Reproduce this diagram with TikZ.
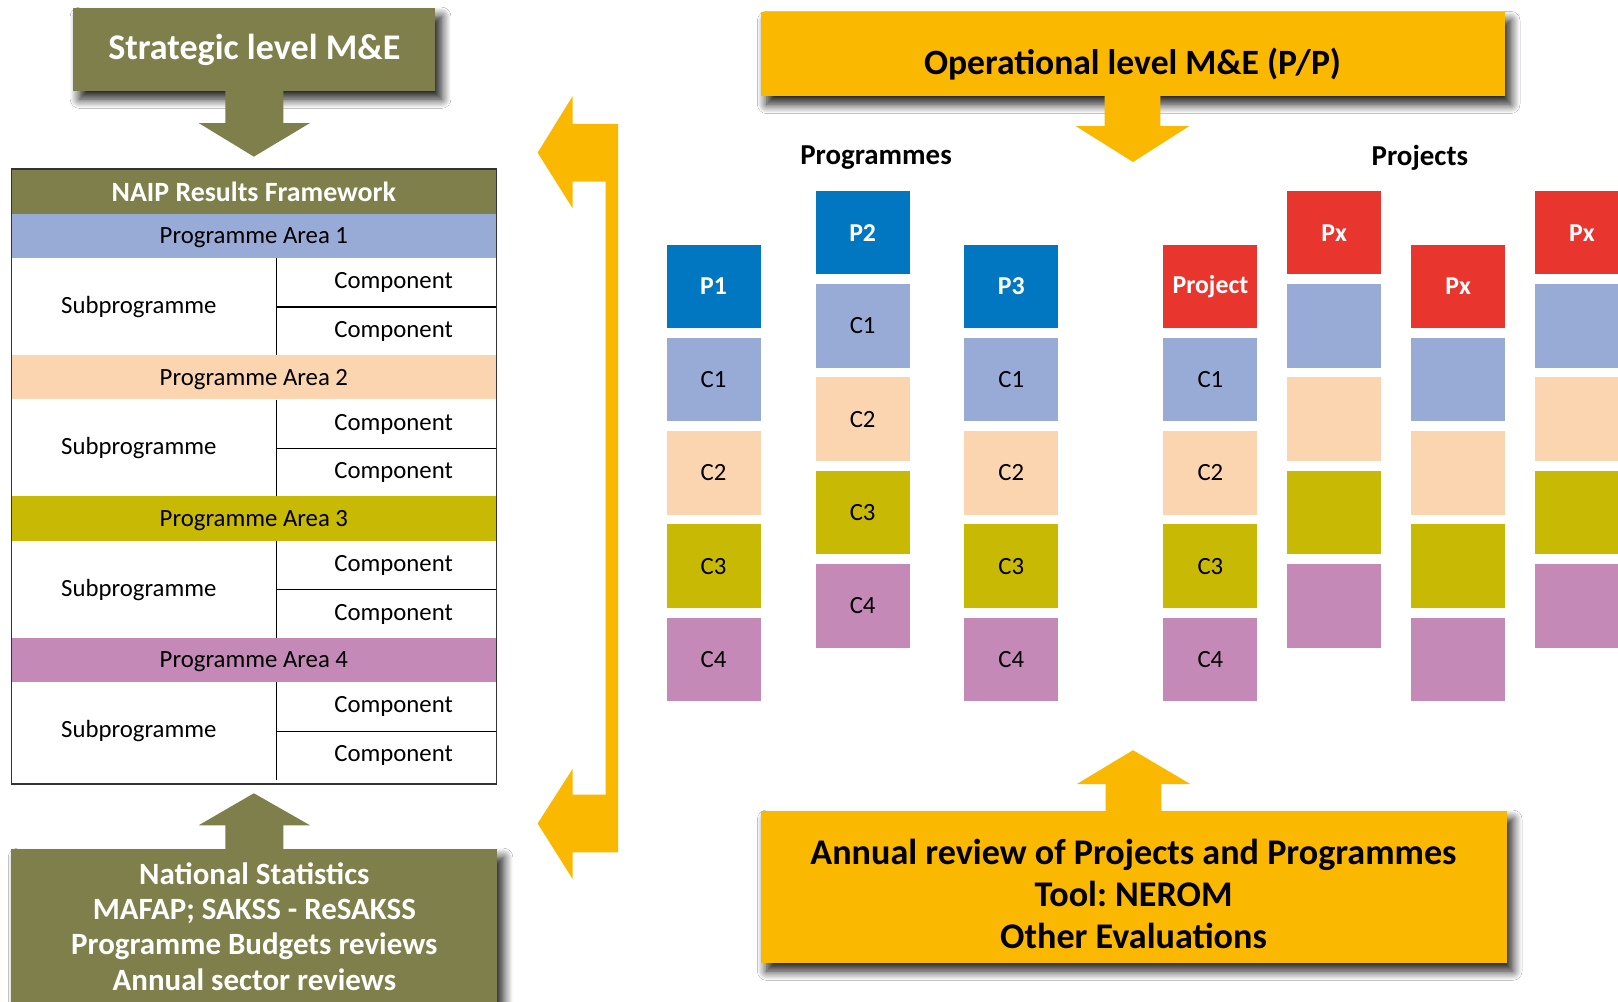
\documentclass[tikz,border=0pt]{standalone}
\usepackage{fontspec}
\setmainfont{Carlito}
\usetikzlibrary{positioning,calc,shadows.blur}
\definecolor{olivebox}{RGB}{127,127,76}
\definecolor{amber}{RGB}{250,185,0}
\definecolor{pablue}{RGB}{152,170,214}
\definecolor{papeach}{RGB}{251,213,176}
\definecolor{paolive}{RGB}{200,185,4}
\definecolor{pamauve}{RGB}{197,137,184}
\definecolor{progblue}{RGB}{0,119,192}
\definecolor{projred}{RGB}{232,53,46}
\frenchspacing
\tikzset{
  mebox/.style={rectangle, inner sep=0pt, text centered,
    blur shadow={shadow xshift=6pt, shadow yshift=-8pt, shadow blur radius=9pt,
      shadow opacity=90, shadow blur steps=12}},
  strategic/.style={mebox, fill=olivebox, text=white},
  operational/.style={mebox, fill=amber, text=black},
  band/.style={rectangle, minimum width=470pt, minimum height=43pt, inner sep=0pt,
    text depth=0pt, font=\fontsize{24}{27}\selectfont},
  cell/.style={rectangle, inner sep=0pt, font=\fontsize{24}{27}\selectfont},
  divider/.style={draw=black, line width=1.2pt},
  cbox/.style={rectangle, minimum width=91pt, minimum height=81pt, inner sep=0pt,
    font=\fontsize{24}{27}\selectfont},
  headbox/.style={cbox, text=white, font=\fontsize{25}{28}\selectfont\bfseries},
  grouplabel/.style={font=\fontsize{28}{32}\selectfont\bfseries}
}
\begin{document}
\begin{tikzpicture}[x=1pt, y=-1pt]
\useasboundingbox (0,0) rectangle (1568,971);
\fill[white] (0,0) rectangle (1568,971);

% strategic side
\node (strat)[strategic, minimum width=351pt, minimum height=80pt,
  font=\fontsize{35}{40}\selectfont\bfseries] at (246.5,48) {Strategic level M\&E};
\node (natstat)[strategic, minimum width=471pt, minimum height=150pt, align=center,
  font=\fontsize{30}{34}\selectfont\bfseries] at (246.5,898)
  {National Statistics\\MAFAP; SAKSS - ReSAKSS\\Programme Budgets reviews\\Annual sector reviews};

% results framework table
\node (naip)[band, fill=olivebox, text=white, font=\fontsize{27}{30}\selectfont\bfseries]
  at (246,185.5) {NAIP Results Framework};
\foreach \i/\col/\top in {1/pablue/207, 2/papeach/344, 3/paolive/481, 4/pamauve/618}{
  \node (pa\i)[band, fill=\col] at (246,\top+21.5) {Programme Area \i};
  \node (sub\i)[cell, minimum width=257pt, minimum height=94pt, anchor=north west]
    at (pa\i.south west) {Subprogramme\hspace*{10pt}};
  \node (cmp\i-a)[cell, minimum width=213pt, minimum height=47pt, anchor=north east]
    at (pa\i.south east) {\hspace*{14pt}Component};
  \node (cmp\i-b)[cell, minimum width=213pt, minimum height=47pt, below=0pt of cmp\i-a]
    {\hspace*{14pt}Component};
  \draw[divider] (cmp\i-a.south west) -- (cmp\i-a.south east);
  \draw[divider] (sub\i.north east) -- (sub\i.south east);
}
\node (rf)[draw=black!80, line width=1.5pt, minimum width=470pt, minimum height=596pt,
  inner sep=0pt] at (246,462) {};

\fill[olivebox] ($(strat.south)+(-28,0)$) -- ($(strat.south)+(-28,31)$)
  -- ($(strat.south)+(-54,31)$) -- ($(naip.north)+(0,-12)$)
  -- ($(strat.south)+(54,31)$) -- ($(strat.south)+(28,31)$)
  -- ($(strat.south)+(28,0)$) -- cycle;
\fill[olivebox] ($(natstat.north)+(-28,0)$) -- ($(natstat.north)+(-28,-23)$)
  -- ($(natstat.north)+(-54,-23)$) -- ($(rf.south)+(0,8)$)
  -- ($(natstat.north)+(54,-23)$) -- ($(natstat.north)+(28,-23)$)
  -- ($(natstat.north)+(28,0)$) -- cycle;

% feedback bracket
\fill[amber] (521,148) -- (555,93) -- (555,120) -- (599,120) -- (599,826)
  -- (555,826) -- (555,852) -- (521,798) -- (555,745) -- (555,770)
  -- (587,770) -- (587,176) -- (555,176) -- (555,202) -- cycle;

% operational side
\node (oper)[operational, minimum width=721pt, minimum height=81pt,
  text height=40pt, text depth=0pt,
  font=\fontsize{34.5}{40}\selectfont\bfseries] at (1097.5,52.5)
  {Operational level M\&E (P/P)};
\node (annual)[operational, minimum width=723pt, minimum height=147pt, align=center,
  font=\fontsize{35}{41}\selectfont\bfseries] at (1098.5,859.5)
  {\rule{0pt}{38pt}Annual review of Projects and Programmes\\Tool: NEROM\\Other Evaluations};
\coordinate (optip) at (1098,157);
\coordinate (antip) at (1098,727);
\fill[amber] ($(oper.south)+(-27,0)$) -- ($(oper.south)+(-27,29)$)
  -- ($(oper.south)+(-55,29)$) -- (optip)
  -- ($(oper.south)+(55,29)$) -- ($(oper.south)+(27,29)$)
  -- ($(oper.south)+(27,0)$) -- cycle;
\fill[amber] ($(annual.north)+(-27,0)$) -- ($(annual.north)+(-27,-26)$)
  -- ($(annual.north)+(-55,-26)$) -- (antip)
  -- ($(annual.north)+(55,-26)$) -- ($(annual.north)+(27,-26)$)
  -- ($(annual.north)+(27,0)$) -- cycle;

\node (progs)[grouplabel] at (849,153) {Programmes};
\node (projs)[grouplabel] at (1376,153) {Projects};

% programme stacks
\foreach \nm/\x/\y/\lab in {p1/691.5/277.5/P1, p2/836/225.5/P2, p3/980/277.5/P3}{
  \node (\nm)[headbox, fill=progblue] at (\x,\y) {\lab};
  \node (\nm c1)[cbox, fill=pablue, below=9pt of \nm] {C1};
  \node (\nm c2)[cbox, fill=papeach, below=9pt of \nm c1] {C2};
  \node (\nm c3)[cbox, fill=paolive, below=9pt of \nm c2] {C3};
  \node (\nm c4)[cbox, fill=pamauve, below=9pt of \nm c3] {C4};
}

% project stacks
\node (pr1)[headbox, fill=projred] at (1173,277.5) {Project};
\node (pr1c1)[cbox, fill=pablue, below=9pt of pr1] {C1};
\node (pr1c2)[cbox, fill=papeach, below=9pt of pr1c1] {C2};
\node (pr1c3)[cbox, fill=paolive, below=9pt of pr1c2] {C3};
\node (pr1c4)[cbox, fill=pamauve, below=9pt of pr1c3] {C4};
\foreach \nm/\x/\y in {pr2/1293/225.5, pr3/1413/277.5, pr4/1533/225.5}{
  \node (\nm)[headbox, fill=projred] at (\x,\y) {Px};
  \node (\nm c1)[cbox, fill=pablue, below=9pt of \nm] {};
  \node (\nm c2)[cbox, fill=papeach, below=9pt of \nm c1] {};
  \node (\nm c3)[cbox, fill=paolive, below=9pt of \nm c2] {};
  \node (\nm c4)[cbox, fill=pamauve, below=9pt of \nm c3] {};
}
\end{tikzpicture}
\end{document}
